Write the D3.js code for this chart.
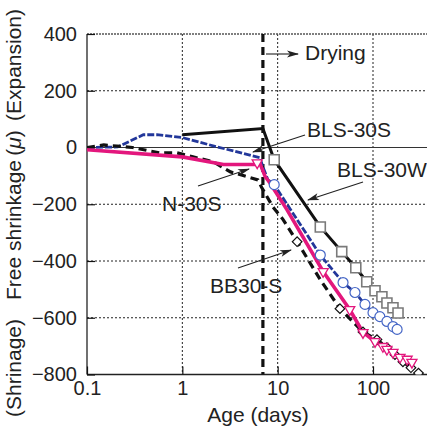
<!DOCTYPE html>
<html>
<head>
<meta charset="utf-8">
<script src="https://cdn.jsdelivr.net/npm/d3@7"></script>
<style>
  body { margin: 0; background: #fff; }
  svg { display: block; font-family: "Liberation Sans", Arial, sans-serif; }
</style>
</head>
<body>
<div id="chart"></div>
<script>
// ---------------------------------------------------------------------------
// Data (age in days, strain in micro)
// ---------------------------------------------------------------------------
const xTicks = [0.1, 1, 10, 100]
const yTicks = [400, 200, 0, -200, -400, -600, -800]
const yGrid = [200, -200, -400, -600]
const dryingAge = 7

// BLS-30W : black solid, squares
const w30LineAge = [1, 7, 9.2, 28, 47, 66, 86, 105, 124, 140, 162, 183]
const w30LineVal = [45, 67, -43, -280, -367, -424, -473, -505, -526, -548, -565, -583]
const w30MarkAge = [9.2, 28, 47, 66, 86, 105, 124, 140, 162, 183]
const w30MarkVal = [-43, -280, -367, -424, -473, -505, -526, -548, -565, -583]

// BLS-30S : blue dashed, circles
const s30LineAge = [0.1, 0.21, 0.39, 0.54, 1, 2.1, 6.5, 7.0, 7.9, 9.2, 28, 48.5, 64.7, 82.4, 100, 118, 140, 162, 179]
const s30LineVal = [0, 2, 45, 45, 35, 6, -36, -68, -114, -131, -379, -476, -511, -553, -582, -596, -613, -631, -641]
const s30MarkAge = [9.2, 28, 48.5, 64.7, 82.4, 100, 118, 140, 162, 179]
const s30MarkVal = [-131, -379, -476, -511, -553, -582, -596, -613, -631, -641]

// N-30S : magenta solid, triangles
const n30LineAge = [0.1, 1, 2.7, 5.8, 6.5, 7.4, 8.3, 12.5, 30, 57, 78, 105, 140, 192, 245]
const n30LineVal = [-8, -33, -60, -60, -55, -103, -125, -219, -437, -571, -650, -684, -711, -739, -750]
const n30MarkAge = [6.1, 30, 57, 78.5, 105, 127, 140, 162, 192, 228, 256]
const n30MarkVal = [-54, -437, -571, -652, -684, -701, -711, -722, -739, -746, -757]

// BB30-S : black dashed, diamonds
const bb30LineAge = [0.1, 0.15, 0.3, 0.58, 0.88, 1.29, 2.1, 3.2, 4.8, 6.2, 6.8, 8.9, 11.4, 16, 28, 45, 78.5, 110, 140, 170, 206, 250, 300]
const bb30LineVal = [0, 9, 0, -19, -19, -33, -50, -86, -103, -114, -141, -209, -254, -332, -466, -568, -650, -677, -705, -730, -755, -776, -795]
const bb30MarkAge = [16, 45, 78.5, 110, 140, 170, 206, 250, 300]
const bb30MarkVal = [-332, -568, -650, -677, -705, -730, -755, -776, -795]

// ---------------------------------------------------------------------------
// Canvas
// ---------------------------------------------------------------------------
const W = 427, H = 430
const pLeft = 87, pTop = 34, pRight = 430, pBottom = 374.5

const svg = d3.select("#chart").append("svg")
    .attr("width", W)
    .attr("height", H)

const x = d3.scaleLog().domain([0.1, 100]).range([87, 373])
const y = d3.scaleLinear().domain([-800, 400]).range([pBottom, pTop])

const zip = (a, v) => a.map((d, i) => [d, v[i]])

let defs = svg.append("defs")
defs.append("clipPath").attr("id", "plot-clip")
    .append("rect")
    .attr("x", pLeft).attr("y", pTop)
    .attr("width", pRight - pLeft).attr("height", pBottom - pTop)

defs.append("marker")
    .attr("id", "arrowhead")
    .attr("viewBox", "0 -5 12 10")
    .attr("refX", 11)
    .attr("refY", 0)
    .attr("orient", "auto")
    .attr("markerUnits", "userSpaceOnUse")
    .attr("markerWidth", 13)
    .attr("markerHeight", 10)
    .append("path")
    .attr("d", "M0,-3.5 L12,0 L0,3.5 L3,0 Z")
    .attr("fill", "#222")

// Grid
let grid = svg.append("g")
grid.selectAll(".vgrid")
    .data(xTicks.slice(1))
    .enter()
    .append("line")
        .attr("x1", d => x(d)).attr("x2", d => x(d))
        .attr("y1", pTop).attr("y2", pBottom)
        .attr("stroke", "#222")
        .attr("stroke-width", 1)
        .attr("stroke-dasharray", "2,2")
grid.selectAll(".hgrid")
    .data(yGrid)
    .enter()
    .append("line")
        .attr("x1", pLeft).attr("x2", pRight)
        .attr("y1", d => y(d)).attr("y2", d => y(d))
        .attr("stroke", "#222")
        .attr("stroke-width", 1)
        .attr("stroke-dasharray", "2,2")
// zero line
grid.append("line")
    .attr("x1", pLeft).attr("x2", pRight)
    .attr("y1", y(0)).attr("y2", y(0))
    .attr("stroke", "#333")
    .attr("stroke-width", 1.2)

// Frame
svg.append("line")
    .attr("x1", pLeft).attr("x2", pRight)
    .attr("y1", pTop).attr("y2", pTop)
    .attr("stroke", "#555")
    .attr("stroke-width", 1.6)
    .attr("stroke-dasharray", "2,1")
svg.append("line")
    .attr("x1", pLeft).attr("x2", pRight)
    .attr("y1", pBottom).attr("y2", pBottom)
    .attr("stroke", "#222")
    .attr("stroke-width", 1.6)
svg.append("line")
    .attr("x1", pLeft).attr("x2", pLeft)
    .attr("y1", pTop).attr("y2", pBottom)
    .attr("stroke", "#111")
    .attr("stroke-width", 1.2)

// Axes (inward ticks)
let xAxis = svg.append("g")
    .attr("transform", `translate(0,${pBottom})`)
    .call(d3.axisBottom(x).tickValues(xTicks).tickSizeInner(-8).tickSizeOuter(0)
        .tickPadding(6).tickFormat(d3.format("~g")))
let yAxis = svg.append("g")
    .attr("transform", `translate(${pLeft},0)`)
    .call(d3.axisLeft(y).tickValues(yTicks).tickSizeInner(-8).tickSizeOuter(0)
        .tickPadding(10))
;[xAxis, yAxis].forEach(ax => {
    ax.select(".domain").remove()
    ax.selectAll("line").attr("stroke", "#111").attr("stroke-width", 1.2)
    ax.selectAll("text")
        .attr("font-size", 20)
        .attr("font-family", "Liberation Sans, Arial, sans-serif")
        .attr("fill", "#222")
})

// Drying line
svg.append("line")
    .attr("x1", x(dryingAge)).attr("x2", x(dryingAge))
    .attr("y1", pTop).attr("y2", pBottom)
    .attr("stroke", "#111")
    .attr("stroke-width", 3.2)
    .attr("stroke-dasharray", "8,5")

// ---------------------------------------------------------------------------
// Series
// ---------------------------------------------------------------------------
let plot = svg.append("g").attr("clip-path", "url(#plot-clip)")
let line = d3.line().x(d => x(d[0])).y(d => y(d[1]))

plot.append("path")
    .datum(zip(s30LineAge, s30LineVal))
    .attr("d", line)
    .attr("fill", "none")
    .attr("stroke", "#22379a")
    .attr("stroke-width", 2.8)
    .attr("stroke-dasharray", "7,2")

plot.append("path")
    .datum(zip(bb30LineAge, bb30LineVal))
    .attr("d", line)
    .attr("fill", "none")
    .attr("stroke", "#111")
    .attr("stroke-width", 3.2)
    .attr("stroke-dasharray", "8,5")

plot.append("path")
    .datum(zip(w30LineAge, w30LineVal))
    .attr("d", line)
    .attr("fill", "none")
    .attr("stroke", "#111")
    .attr("stroke-width", 3)

plot.append("path")
    .datum(zip(n30LineAge, n30LineVal))
    .attr("d", line)
    .attr("fill", "none")
    .attr("stroke", "#e3177d")
    .attr("stroke-width", 3.6)

// markers
let addMarks = (age, val, type, size, rot, stroke, sw) => {
    plot.append("g")
        .selectAll("path")
        .data(zip(age, val))
        .enter()
        .append("path")
            .attr("d", d3.symbol().type(type).size(size))
            .attr("transform", d => `translate(${x(d[0])},${y(d[1])}) rotate(${rot})`)
            .attr("fill", "#fff")
            .attr("stroke", stroke)
            .attr("stroke-width", sw)
}
addMarks(s30MarkAge, s30MarkVal, d3.symbolCircle, 78, 0, "#4566c6", 1.2)
addMarks(w30MarkAge, w30MarkVal, d3.symbolSquare, 100, 0, "#7a7a7a", 1.6)
addMarks(bb30MarkAge, bb30MarkVal, d3.symbolSquare, 46, 45, "#111", 1.2)
addMarks(n30MarkAge, n30MarkVal, d3.symbolTriangle, 44, 180, "#e3177d", 1.3)

// ---------------------------------------------------------------------------
// Annotations
// ---------------------------------------------------------------------------
let arrow = (x1, y1, x2, y2) => {
    svg.append("line")
        .attr("x1", x1).attr("y1", y1)
        .attr("x2", x2).attr("y2", y2)
        .attr("stroke", "#222")
        .attr("stroke-width", 1.1)
        .attr("marker-end", "url(#arrowhead)")
}
let label = (txt, tx, ty) => {
    svg.append("text")
        .text(txt)
        .attr("x", tx).attr("y", ty)
        .attr("font-size", 21)
        .attr("fill", "#222")
}

arrow(266, 54, 298, 54)
label("Drying", 305, 60)
arrow(305, 135, 253, 152)
label("BLS-30S", 307, 137)
arrow(363, 182, 308, 200)
label("BLS-30W", 337, 177)
arrow(198, 186, 249, 169)
label("N-30S", 162, 211)
arrow(238, 268, 291, 250)
label("BB30-S", 210, 293)

// Axis titles
svg.append("text")
    .text("Age (days)")
    .attr("x", 258).attr("y", 422)
    .attr("text-anchor", "middle")
    .attr("font-size", 21)
    .attr("fill", "#222")

let yTitle = [
    { t: "(Shrinage)", c: 368 },
    { t: "Free shrinkage", c: 230 },
    { t: "(Expansion)", c: 65 },
]
yTitle.forEach(d => {
    svg.append("text")
        .text(d.t)
        .attr("transform", `translate(21,${d.c}) rotate(-90)`)
        .attr("text-anchor", "middle")
        .attr("font-size", 21)
        .attr("fill", "#222")
})
let mu = svg.append("text")
    .attr("transform", "translate(21,143) rotate(-90)")
    .attr("text-anchor", "middle")
    .attr("font-size", 21)
    .attr("fill", "#222")
mu.append("tspan").text("(")
mu.append("tspan").text("μ").attr("font-style", "italic")
mu.append("tspan").text(")")
</script>
</body>
</html>
